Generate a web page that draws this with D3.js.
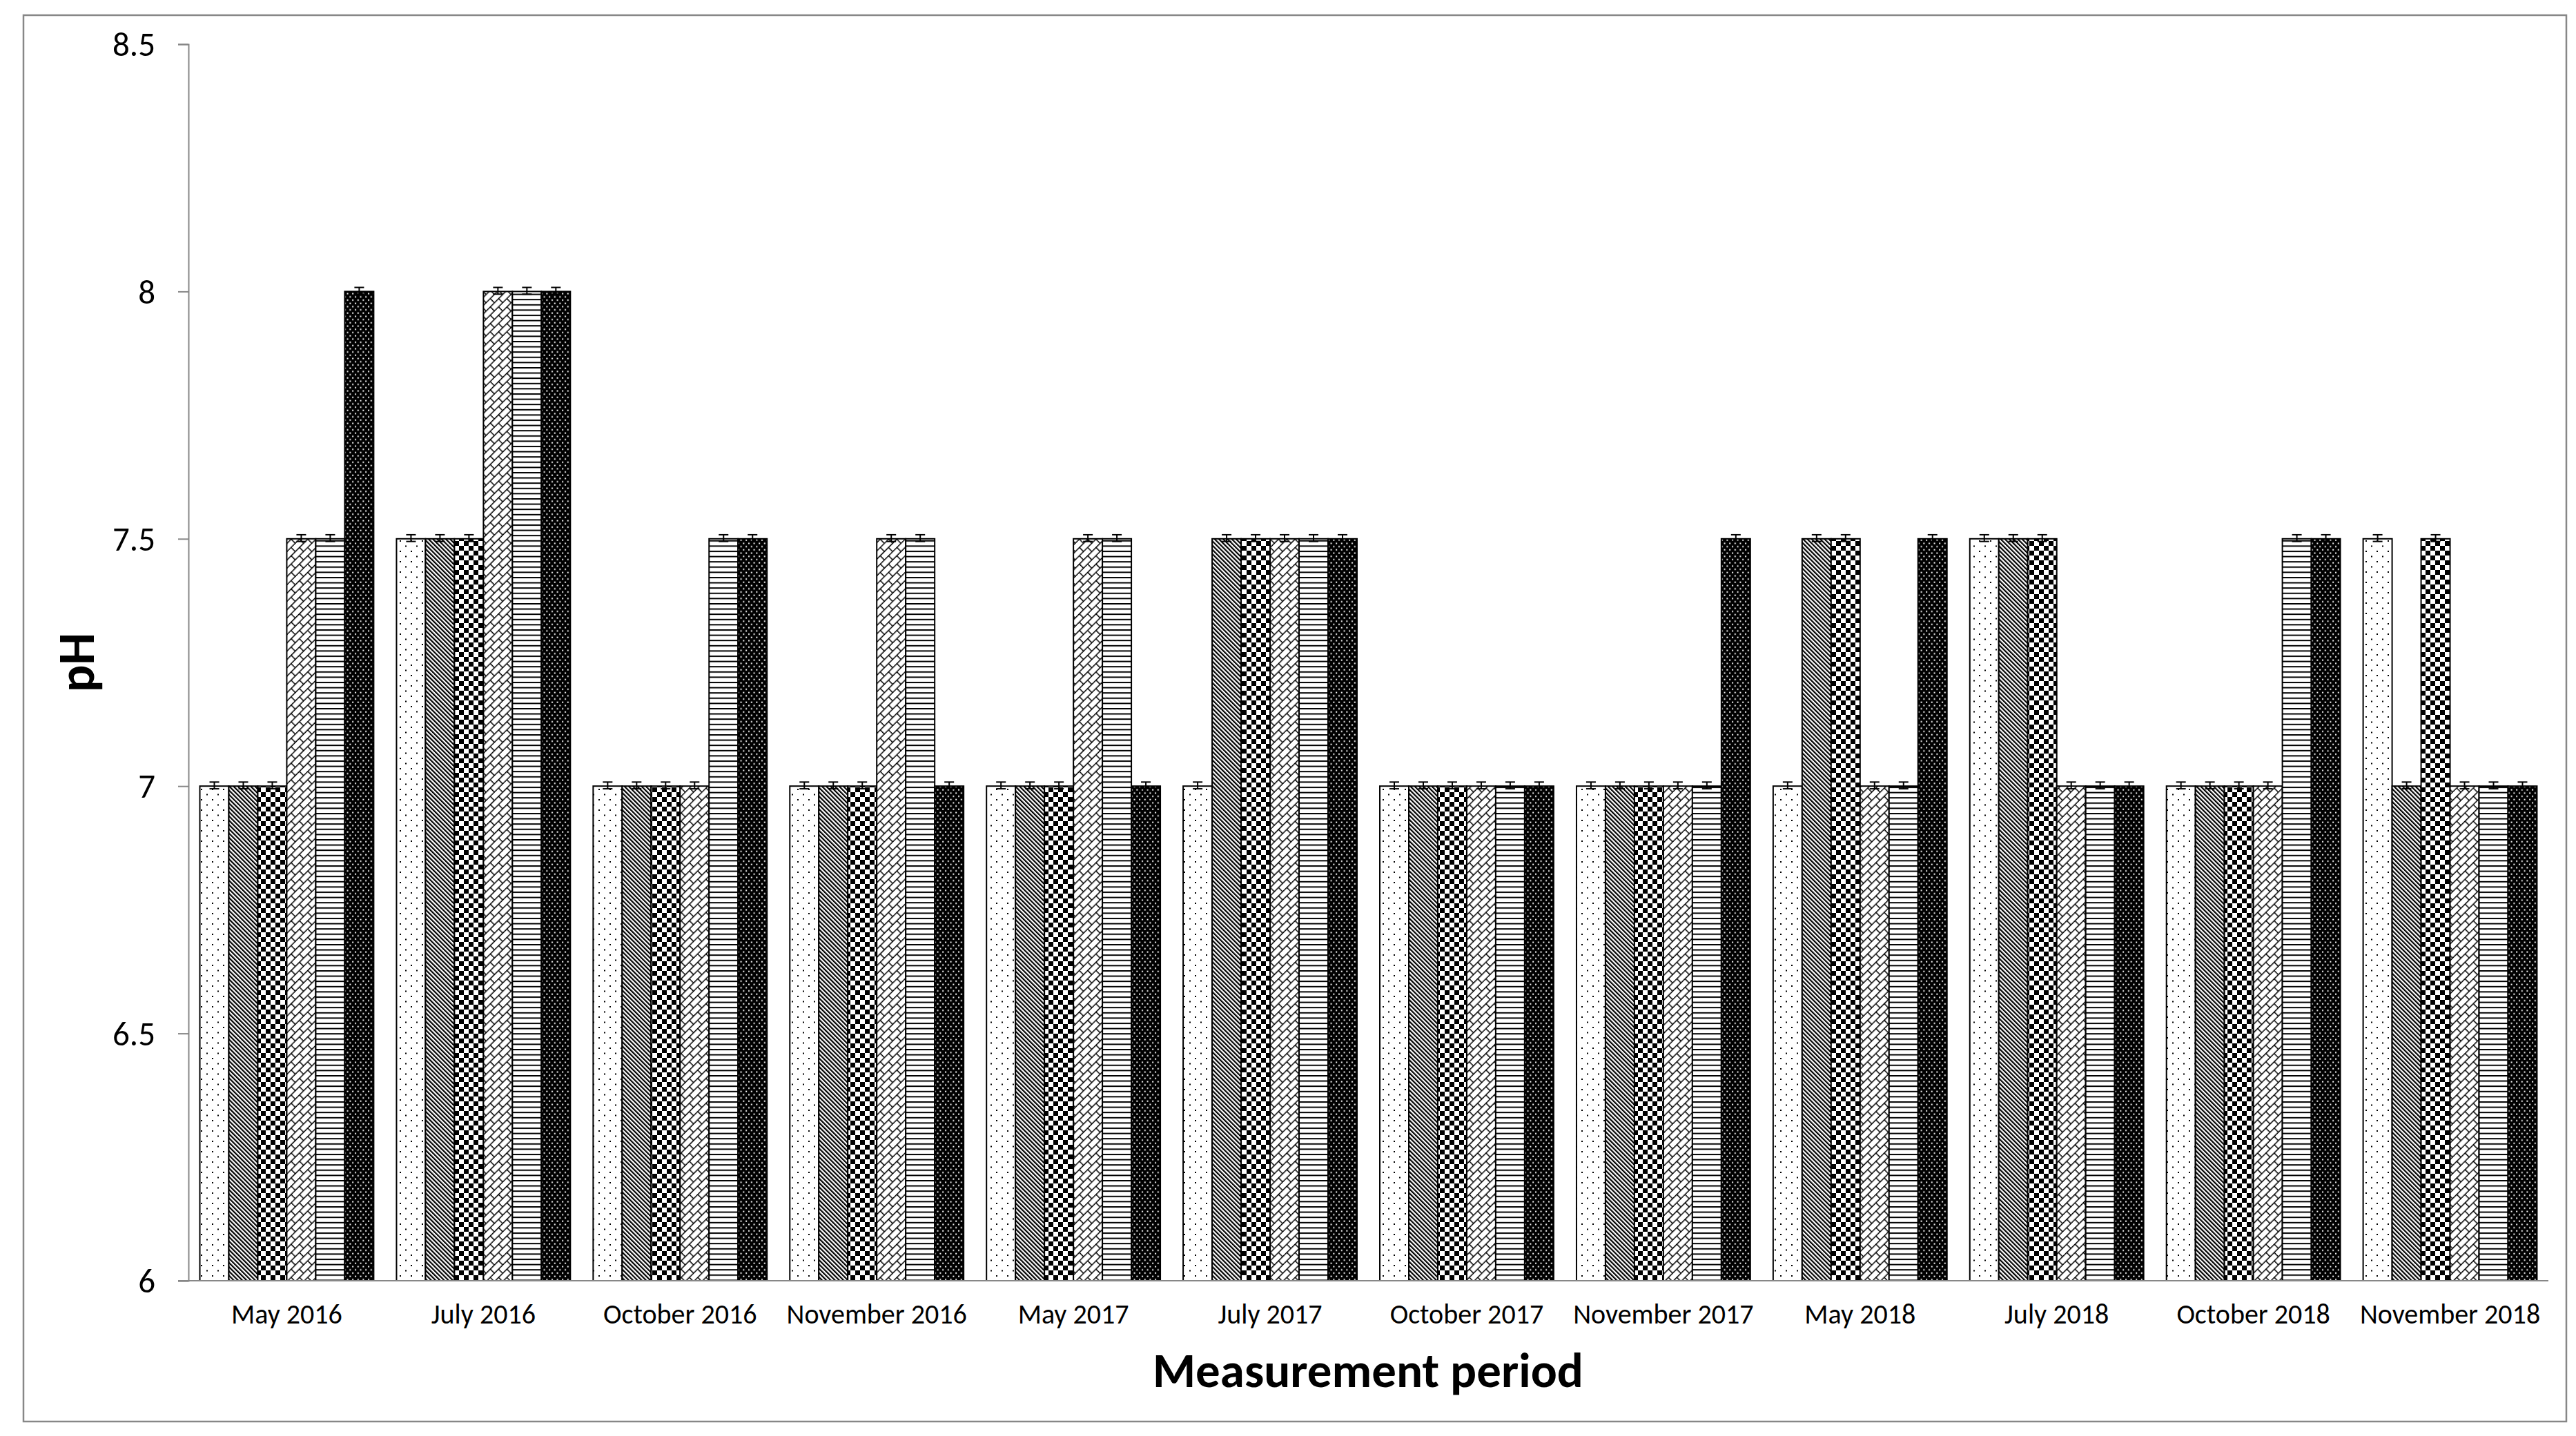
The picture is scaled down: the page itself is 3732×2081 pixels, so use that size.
<!DOCTYPE html>
<html>
<head>
<meta charset="utf-8">
<script src="https://cdn.jsdelivr.net/npm/d3@7/dist/d3.min.js"></script>
<style>
html,body{margin:0;padding:0;background:#fff;}
svg{display:block;}
</style>
</head>
<body>
<svg id="chart" width="3732" height="2081"></svg>
<script>
// ---- data ----
const categories = ["May 2016","July 2016","October 2016","November 2016","May 2017","July 2017","October 2017","November 2017","May 2018","July 2018","October 2018","November 2018"];
const seriesNames = ["S1","S2","S3","S4","S5","S6"];
const s1 = [7,   7.5, 7,   7,   7,   7,   7, 7,   7,   7.5, 7,   7.5];
const s2 = [7,   7.5, 7,   7,   7,   7.5, 7, 7,   7.5, 7.5, 7,   7  ];
const s3 = [7,   7.5, 7,   7,   7,   7.5, 7, 7,   7.5, 7.5, 7,   7.5];
const s4 = [7.5, 8,   7,   7.5, 7.5, 7.5, 7, 7,   7,   7,   7,   7  ];
const s5 = [7.5, 8,   7.5, 7.5, 7.5, 7.5, 7, 7,   7,   7,   7.5, 7  ];
const s6 = [8,   8,   7.5, 7,   7,   7.5, 7, 7.5, 7.5, 7,   7.5, 7  ];
const errs = [0.004,0.004,0.004,0.004,0.004,0.004];
const yTicks = [6, 6.5, 7, 7.5, 8, 8.5];
const seriesValues = [s1,s2,s3,s4,s5,s6];

// ---- layout ----
const svg = d3.select("#chart");
const FONT = "Carlito, Lato, 'Liberation Sans', sans-serif";
const axisColor = "#878787";
const plotLeft = 273, plotRight = 3692, plotTop = 64, plotBottom = 1856;

const defs = svg.append("defs");
// pattern 1: sparse dots
const p1 = defs.append("pattern").attr("id","pat0").attr("patternUnits","userSpaceOnUse").attr("width",16).attr("height",15);
p1.append("rect").attr("width",16).attr("height",15).attr("fill","#fff");
p1.append("rect").attr("x",3).attr("y",3).attr("width",2).attr("height",2).attr("fill","#000");
p1.append("rect").attr("x",11).attr("y",10.5).attr("width",2).attr("height",2).attr("fill","#000");
// pattern 2: dark downward diagonal
const p2 = defs.append("pattern").attr("id","pat1").attr("patternUnits","userSpaceOnUse").attr("width",4.4).attr("height",10).attr("patternTransform","rotate(-45)");
p2.append("rect").attr("width",4.4).attr("height",10).attr("fill","#fff");
p2.append("rect").attr("width",2.2).attr("height",10).attr("fill","#000");
// pattern 3: checkerboard
const p3 = defs.append("pattern").attr("id","pat2").attr("patternUnits","userSpaceOnUse").attr("width",14).attr("height",14);
p3.append("rect").attr("width",14).attr("height",14).attr("fill","#fff");
p3.append("rect").attr("width",7).attr("height",7).attr("fill","#000");
p3.append("rect").attr("x",7).attr("y",7).attr("width",7).attr("height",7).attr("fill","#000");
// pattern 4: diagonal brick
const p4 = defs.append("pattern").attr("id","pat3").attr("patternUnits","userSpaceOnUse").attr("width",17).attr("height",17).attr("patternTransform","rotate(-45)");
p4.append("rect").attr("width",17).attr("height",17).attr("fill","#fff");
p4.append("path").attr("d","M0,0.75H17M0,9.25H17M0.75,0V8.5M9.25,8.5V17").attr("stroke","#000").attr("stroke-width",1.5).attr("fill","none");
// pattern 5: horizontal lines
const p5 = defs.append("pattern").attr("id","pat4").attr("patternUnits","userSpaceOnUse").attr("width",10).attr("height",7.6);
p5.append("rect").attr("width",10).attr("height",7.6).attr("fill","#fff");
p5.append("rect").attr("y",0).attr("width",10).attr("height",2).attr("fill","#000");
// pattern 6: black with white dots
const p6 = defs.append("pattern").attr("id","pat5").attr("patternUnits","userSpaceOnUse").attr("width",7.6).attr("height",9.4);
p6.append("rect").attr("width",7.6).attr("height",9.4).attr("fill","#000");
p6.append("rect").attr("x",1).attr("y",1.5).attr("width",2).attr("height",2).attr("fill","#fff");
p6.append("rect").attr("x",4.8).attr("y",6.2).attr("width",2).attr("height",2).attr("fill","#fff");

// outer border
svg.append("rect").attr("x",34).attr("y",22).attr("width",3684).attr("height",2038)
  .attr("fill","none").attr("stroke",axisColor).attr("stroke-width",2.5);

// scales
const x0 = d3.scaleBand().domain(categories).range([plotLeft, plotRight]).paddingInner(0.116).paddingOuter(0.058);
const x1 = d3.scaleBand().domain(seriesNames).range([0, x0.bandwidth()]).padding(0);
const y = d3.scaleLinear().domain([6, 8.5]).range([plotBottom, plotTop]);

// bars
const rows = [];
categories.forEach((c, ci) => {
  seriesNames.forEach((s, si) => {
    rows.push({cat: c, ser: s, si, value: seriesValues[si][ci], err: errs[si]});
  });
});
const barG = svg.append("g");
barG.selectAll("rect").data(rows).join("rect")
  .attr("x", d => x0(d.cat) + x1(d.ser))
  .attr("y", d => y(d.value))
  .attr("width", x1.bandwidth())
  .attr("height", d => y(6) - y(d.value))
  .attr("fill", d => `url(#pat${d.si})`)
  .attr("stroke","#000").attr("stroke-width",2);

// error bars
const errG = svg.append("g").attr("stroke","#000").attr("stroke-width",2);
rows.forEach(d => {
  const cx = x0(d.cat) + x1(d.ser) + x1.bandwidth()/2;
  const yt = y(d.value + d.err), yb = y(d.value - d.err);
  errG.append("line").attr("x1",cx).attr("x2",cx).attr("y1",yt - 3).attr("y2",yb + 1);
  errG.append("line").attr("x1",cx-7).attr("x2",cx+7).attr("y1",yt - 3).attr("y2",yt - 3);
  errG.append("line").attr("x1",cx-7).attr("x2",cx+7).attr("y1",yb + 1).attr("y2",yb + 1);
});

// y axis
const yAxis = d3.axisLeft(y).tickValues(yTicks).tickFormat(d => String(d)).tickSizeInner(15).tickSizeOuter(15).tickPadding(33);
const yg = svg.append("g").attr("transform",`translate(${plotLeft},0)`).call(yAxis);
yg.selectAll("path,line").attr("stroke",axisColor).attr("stroke-width",2);
yg.selectAll("text").attr("font-family",FONT).attr("font-size",49).attr("fill","#000").attr("dy","0.34em");

// x axis
const xAxis = d3.axisBottom(x0).tickSizeInner(0).tickSizeOuter(0).tickPadding(0);
const xg = svg.append("g").attr("transform",`translate(0,${plotBottom})`).call(xAxis);
xg.select(".domain").remove();
xg.selectAll(".tick line").remove();
xg.selectAll("text").attr("font-family",FONT).attr("font-size",40).attr("fill","#000").attr("y",62).attr("dy",0);
svg.append("line").attr("x1",plotLeft-15).attr("x2",plotRight).attr("y1",plotBottom).attr("y2",plotBottom)
  .attr("stroke",axisColor).attr("stroke-width",2);

// titles
svg.append("text").attr("x",1982).attr("y",2010).attr("text-anchor","middle")
  .attr("font-family",FONT).attr("font-weight","bold").attr("font-size",71).attr("fill","#000")
  .text("Measurement period");
svg.append("text").attr("transform","translate(136,960) rotate(-90)").attr("text-anchor","middle")
  .attr("font-family",FONT).attr("font-weight","bold").attr("font-size",74).attr("fill","#000")
  .text("pH");
</script>
</body>
</html>
